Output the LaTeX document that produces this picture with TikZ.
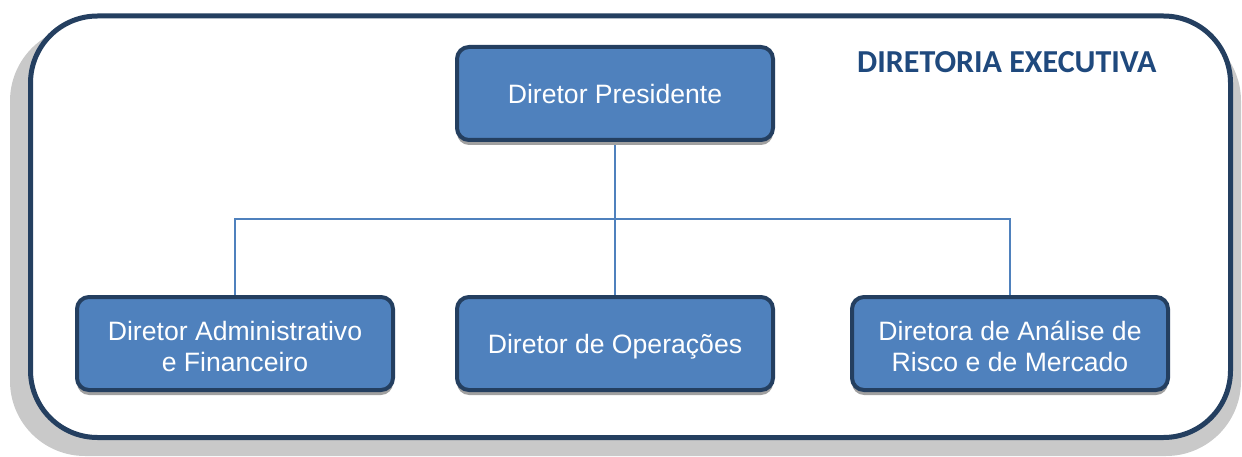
\documentclass[tikz,border=0pt]{standalone}
\usepackage{fontspec}
\setmainfont{Liberation Sans}
\newfontfamily\carlito{Carlito}
\usetikzlibrary{shadows}
\definecolor{framec}{HTML}{243F60}
\definecolor{boxfill}{HTML}{4F81BD}
\definecolor{titlec}{HTML}{1F497D}
\definecolor{shadec}{HTML}{C9C9C9}
\definecolor{boxshade}{HTML}{A0A0A0}
\pgfdeclarelayer{bg}
\pgfdeclarelayer{conn}
\pgfsetlayers{bg,conn,main}
\begin{document}
\begin{tikzpicture}[x=1pt,y=-1pt,
  rolebox/.style={draw=framec, line width=4pt, fill=boxfill, rounded corners=12pt,
    minimum width=316pt, minimum height=93pt, inner sep=0pt,
    drop shadow={shadow xshift=0pt, shadow yshift=-5pt, fill=boxshade, opacity=1}},
  roletext/.style={text=white, align=center, inner sep=0pt,
    font=\fontsize{26.6}{31}\selectfont},
  link/.style={draw=boxfill, line width=2pt}]
\useasboundingbox (0,0) rectangle (1242,457);
\begin{pgfonlayer}{bg}
  \fill[shadec, rounded corners=75pt] (10,26) rectangle (1241,456);
  \draw[framec, line width=5pt, fill=white, rounded corners=67pt] (30.5,16) rectangle (1230.5,437.5);
\end{pgfonlayer}
\node[anchor=west, text=titlec, inner sep=0pt, font=\carlito\bfseries\fontsize{32}{38}\selectfont] (title) at (857,62) {DIRETORIA EXECUTIVA};
\node[rolebox, label={[roletext]center:Diretor Presidente}] (pres) at (615,93.5) {};
\node[rolebox, label={[roletext, yshift=-2.5pt]center:{Diretor Administrativo\\e Financeiro}}] (adm) at (235,343.5) {};
\node[rolebox, label={[roletext, yshift=-3pt]center:Diretor de Operações}] (ops) at (615,343.5) {};
\node[rolebox, label={[roletext, yshift=-2.5pt]center:{Diretora de Análise de\\Risco e de Mercado}}] (risk) at (1010,343.5) {};
\coordinate (bus) at (615,219);
\begin{pgfonlayer}{conn}
  \draw[link] (pres.south) -- (ops.north);
  \draw[link] (adm.north) |- (bus) -| (risk.north);
\end{pgfonlayer}
\end{tikzpicture}
\end{document}
